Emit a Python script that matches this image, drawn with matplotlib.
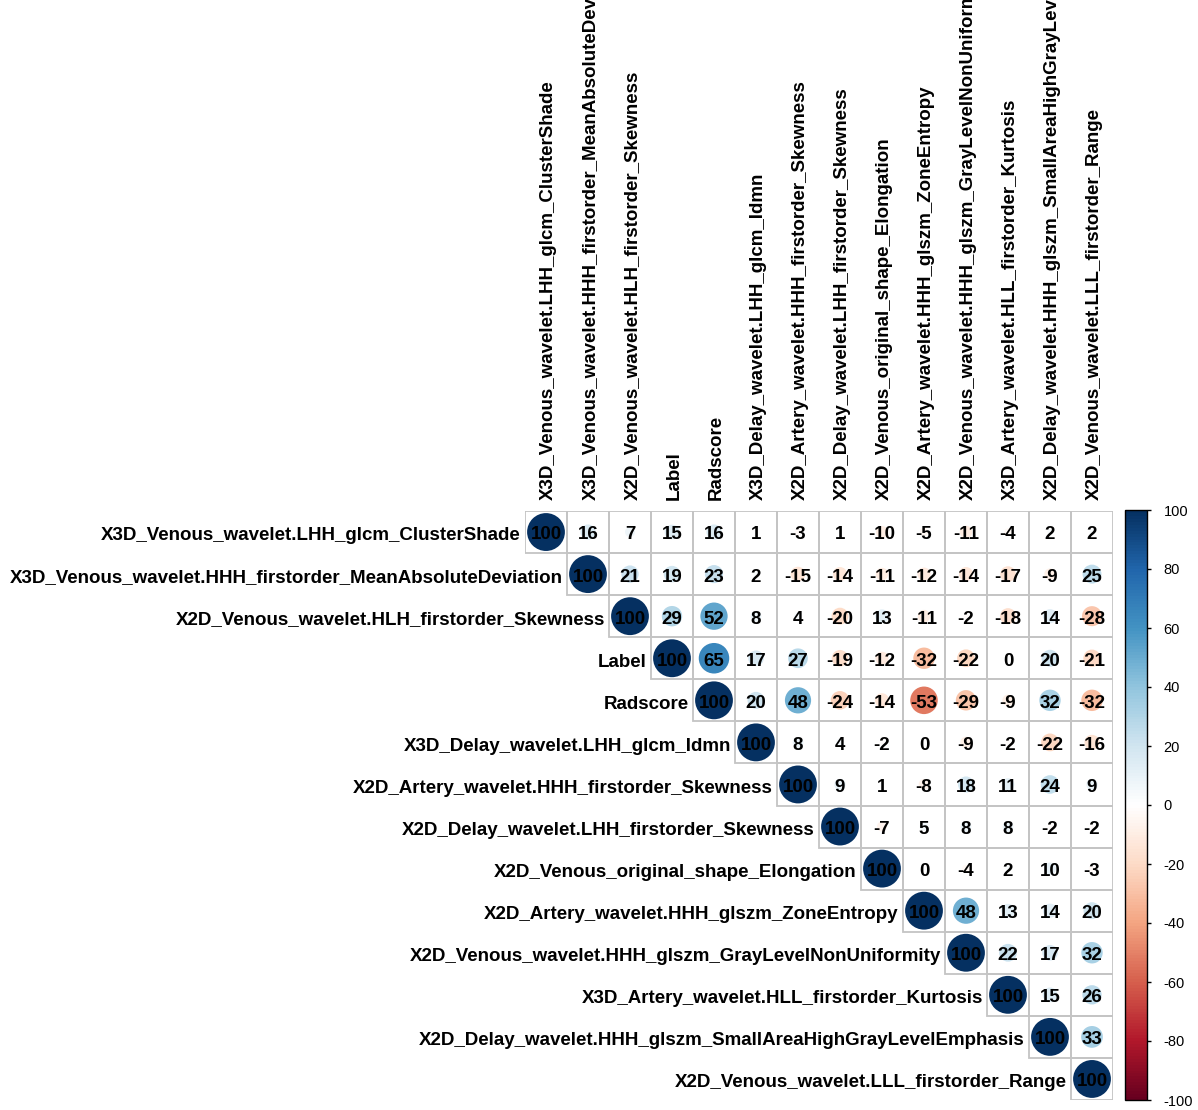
import numpy as np
import matplotlib
matplotlib.use("Agg")
import matplotlib.pyplot as plt
from matplotlib.colors import LinearSegmentedColormap, Normalize
from matplotlib.patches import Circle, Rectangle
from matplotlib.cm import ScalarMappable

plt.rcParams["axes.unicode_minus"] = False

labels = [
    "X3D_Venous_wavelet.LHH_glcm_ClusterShade",
    "X3D_Venous_wavelet.HHH_firstorder_MeanAbsoluteDeviation",
    "X2D_Venous_wavelet.HLH_firstorder_Skewness",
    "Label",
    "Radscore",
    "X3D_Delay_wavelet.LHH_glcm_Idmn",
    "X2D_Artery_wavelet.HHH_firstorder_Skewness",
    "X2D_Delay_wavelet.LHH_firstorder_Skewness",
    "X2D_Venous_original_shape_Elongation",
    "X2D_Artery_wavelet.HHH_glszm_ZoneEntropy",
    "X2D_Venous_wavelet.HHH_glszm_GrayLevelNonUniformity",
    "X3D_Artery_wavelet.HLL_firstorder_Kurtosis",
    "X2D_Delay_wavelet.HHH_glszm_SmallAreaHighGrayLevelEmphasis",
    "X2D_Venous_wavelet.LLL_firstorder_Range",
]

# upper-triangle values (percent), row i starts at column i
row0 = [100, 16, 7, 15, 16, 1, -3, 1, -10, -5, -11, -4, 2, 2]
row1 = [100, 21, 19, 23, 2, -15, -14, -11, -12, -14, -17, -9, 25]
row2 = [100, 29, 52, 8, 4, -20, 13, -11, -2, -18, 14, -28]
row3 = [100, 65, 17, 27, -19, -12, -32, -22, 0, 20, -21]
row4 = [100, 20, 48, -24, -14, -53, -29, -9, 32, -32]
row5 = [100, 8, 4, -2, 0, -9, -2, -22, -16]
row6 = [100, 9, 1, -8, 18, 11, 24, 9]
row7 = [100, -7, 5, 8, 8, -2, -2]
row8 = [100, 0, -4, 2, 10, -3]
row9 = [100, 48, 13, 14, 20]
row10 = [100, 22, 17, 32]
row11 = [100, 15, 26]
row12 = [100, 33]
row13 = [100]
rows = [row0, row1, row2, row3, row4, row5, row6, row7, row8, row9, row10, row11, row12, row13]

colorbar_ticks = [-100, -80, -60, -40, -20, 0, 20, 40, 60, 80, 100]

cmap = LinearSegmentedColormap.from_list(
    "corrRdBu",
    ["#67001F", "#B2182B", "#D6604D", "#F4A582", "#FDDBC7", "#FFFFFF",
     "#D1E5F0", "#92C5DE", "#4393C3", "#2166AC", "#053061"], N=200)
norm = Normalize(-100, 100)

W, H = 1198, 1110
fig = plt.figure(figsize=(W / 100, H / 100), dpi=100)
n = len(labels)
gl, gr, gt, gb = 525, 1113, 511, 1100
ax = fig.add_axes([gl / W, (H - gb) / H, (gr - gl) / W, (gb - gt) / H])
ax.set_xlim(-0.5, n - 0.5)
ax.set_ylim(n - 0.5, -0.5)
ax.axis("off")

font = "Liberation Sans"
for i, vals in enumerate(rows):
    for k, v in enumerate(vals):
        j = i + k
        ax.add_patch(Rectangle((j - 0.5, i - 0.5), 1, 1, facecolor="none",
                               edgecolor="#C4C4C4", lw=1.3, zorder=1))
        r = 0.45 * np.sqrt(abs(v) / 100.0)
        ax.add_patch(Circle((j, i), r, facecolor=cmap(norm(v)),
                            edgecolor="none", zorder=2))
        ax.text(j, i + 0.07, str(v), ha="center", va="center", fontsize=13.5,
                fontweight="bold", family=font, color="black", zorder=3)
    # row label
    ax.text(i - 0.6, i + 0.09, labels[i], ha="right", va="center", fontsize=13.5,
            fontweight="bold", family=font, color="black", clip_on=False)
    # column label
    ax.text(i + 0.05, -0.76, labels[i], ha="center", va="bottom", rotation=90,
            fontsize=13.5, fontweight="bold", family=font, color="black",
            clip_on=False)

cax = fig.add_axes([1125 / W, (H - 1100) / H, 22 / W, 590 / H])
sm = ScalarMappable(norm=norm, cmap=cmap)
cb = fig.colorbar(sm, cax=cax, ticks=colorbar_ticks)
cb.outline.set_linewidth(1.0)
cb.outline.set_edgecolor("black")
cax.tick_params(length=3, width=1, labelsize=10.5, pad=9)
for t in cax.get_yticklabels():
    t.set_family(font)

fig.savefig("out.png", dpi=100, facecolor="white")
